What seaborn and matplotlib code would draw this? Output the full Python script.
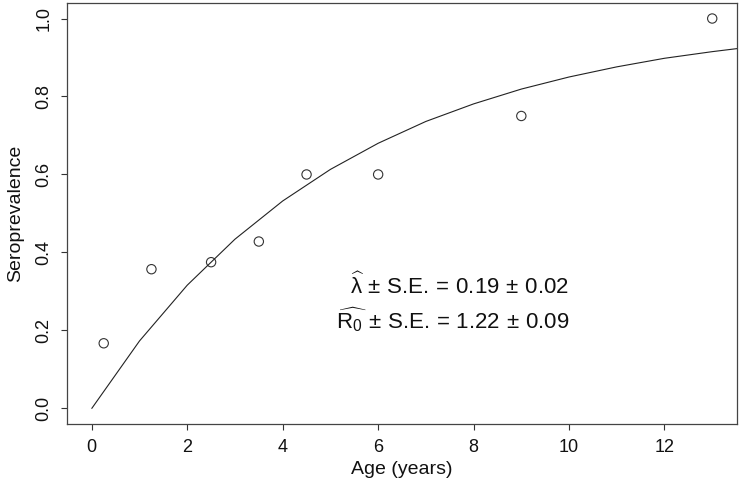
import matplotlib
matplotlib.use("Agg")
import matplotlib.pyplot as plt
import seaborn as sns
import pandas as pd

# observed data
age_obs = [0.25, 1.25, 2.5, 3.5, 4.5, 6.0, 9.0, 13.0]
sero_obs = [0.167, 0.357, 0.375, 0.428, 0.600, 0.600, 0.750, 1.000]

# fitted curve
age_fit = [0, 1, 2, 3, 4, 5, 6, 7, 8, 9, 10, 11, 12, 13, 14]
sero_fit = [0.0, 0.173, 0.316, 0.434, 0.532, 0.613, 0.680, 0.736, 0.781,
            0.819, 0.850, 0.876, 0.898, 0.915, 0.930]

x_ticks = [0, 2, 4, 6, 8, 10, 12]
y_ticks = [0.0, 0.2, 0.4, 0.6, 0.8, 1.0]

sns.set_style("ticks")
plt.rcParams['font.family'] = ['Liberation Sans', 'DejaVu Sans']
plt.rcParams['mathtext.fontset'] = 'custom'
plt.rcParams['mathtext.rm'] = 'Liberation Sans'
plt.rcParams['mathtext.it'] = 'Liberation Sans'
plt.rcParams['mathtext.bf'] = 'Liberation Sans:bold'

fig = plt.figure(figsize=(7.4, 4.86), dpi=100)
ax = fig.add_axes([0.0905, 0.1276, 0.9055, 0.8664])

df_fit = pd.DataFrame({"age": age_fit, "sero": sero_fit})
df_obs = pd.DataFrame({"age": age_obs, "sero": sero_obs})

sns.lineplot(data=df_fit, x="age", y="sero", ax=ax, color="#222222",
             linewidth=0.8, sort=False)
sns.scatterplot(data=df_obs, x="age", y="sero", ax=ax, marker="o",
                facecolor="none", edgecolor="#333333", linewidth=0.8, s=45)

ax.set_xlim(-0.52, 13.52)
ax.set_ylim(-0.04, 1.04)
ax.set_xticks(x_ticks)
ax.set_xticklabels([str(t) for t in x_ticks])
ax.set_yticks(y_ticks)
ax.set_yticklabels([f"{t:.1f}" for t in y_ticks], rotation=90, va="center")

ax.tick_params(axis="both", direction="out", length=4.5, width=0.8,
               colors="#333333", labelsize=13, labelcolor="#111111", pad=6)
for sp in ax.spines.values():
    sp.set_visible(True)
    sp.set_linewidth(0.9)
    sp.set_color("#444444")

ax.set_xlabel("Age (years)", fontsize=14, color="#111111", labelpad=4)
ax.set_ylabel("Seroprevalence", fontsize=14, color="#111111", labelpad=8)

ax.text(10.0, 0.293,
        r"$\widehat{\lambda}\,\pm\,$S.E.$\,=\,$0.19$\,\pm\,$0.02",
        ha="right", va="baseline", fontsize=16, color="#111111")
ax.text(10.0, 0.204,
        r"$\widehat{\mathrm{R}_0}\,\pm\,$S.E.$\,=\,$1.22$\,\pm\,$0.09",
        ha="right", va="baseline", fontsize=16, color="#111111")

fig.savefig("out.png", dpi=100)
